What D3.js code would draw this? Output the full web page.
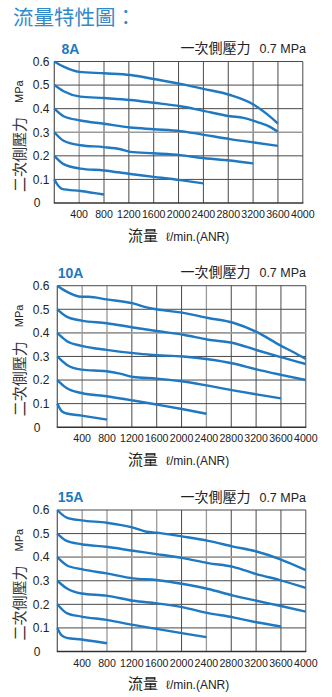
<!DOCTYPE html>
<html><head><meta charset="utf-8">
<script src="https://cdn.jsdelivr.net/npm/d3@7/dist/d3.min.js"></script>
<style>
html,body{margin:0;padding:0;background:#fff;}
svg{display:block;}
</style></head>
<body>
<svg id="c" width="332" height="697"></svg>
<script>
// ---- data ----
const chartNames = ["8A", "10A", "15A"];
const xTicks = [400, 800, 1200, 1600, 2000, 2400, 2800, 3200, 3600, 4000];
const yTicks = [0, 0.1, 0.2, 0.3, 0.4, 0.5, 0.6];
const titleText = "流量特性圖：";
const primaryLabel = "一次側壓力";
const primaryValue = "0.7 MPa";
const xTitle = "流量";
const xUnit = "ℓ/min.(ANR)";
const yTitle = "二次側壓力";
const yUnit = "MPa";

// each curve: [flow, pressure] pairs
const curves8A = [
  [[0,0.6],[150,0.578],[400,0.556],[800,0.55],[1225,0.543],[1600,0.526],[2030,0.505],[2400,0.484],[2830,0.458],[3205,0.418],[3420,0.378],[3600,0.337]],
  [[0,0.5],[150,0.474],[420,0.451],[800,0.445],[1225,0.437],[1600,0.425],[2030,0.41],[2346,0.394],[2829,0.368],[3044,0.361],[3259,0.344],[3473,0.323],[3600,0.302]],
  [[0,0.4],[150,0.368],[420,0.35],[800,0.336],[1225,0.32],[1600,0.313],[2030,0.305],[2346,0.292],[2829,0.271],[3205,0.257],[3600,0.242]],
  [[0,0.3],[150,0.264],[420,0.245],[800,0.237],[1065,0.228],[1225,0.217],[1600,0.211],[2030,0.203],[2346,0.192],[2829,0.18],[3200,0.168]],
  [[0,0.2],[150,0.165],[420,0.146],[800,0.138],[1225,0.123],[1600,0.111],[2030,0.097],[2400,0.083]],
  [[0,0.1],[45,0.08],[125,0.06],[420,0.051],[800,0.036]]
];
const curves10A = [
  [[0,0.6],[150,0.575],[390,0.553],[500,0.553],[793,0.542],[1222,0.525],[1437,0.508],[1598,0.5],[2027,0.485],[2429,0.463],[2831,0.443],[3207,0.404],[3582,0.348],[3796,0.319],[4000,0.289]],
  [[0,0.5],[150,0.469],[390,0.452],[793,0.441],[1222,0.423],[1598,0.408],[2027,0.392],[2429,0.371],[2831,0.357],[3207,0.327],[3582,0.298],[4000,0.268]],
  [[0,0.4],[150,0.366],[390,0.345],[793,0.328],[1222,0.314],[1490,0.307],[2027,0.3],[2429,0.288],[2831,0.27],[3207,0.245],[3582,0.223],[4000,0.2]],
  [[0,0.3],[150,0.265],[390,0.244],[793,0.237],[1008,0.227],[1222,0.213],[1598,0.206],[2027,0.194],[2429,0.176],[2831,0.156],[3207,0.139],[3600,0.122]],
  [[0,0.2],[150,0.166],[390,0.145],[793,0.131],[1222,0.113],[1598,0.096],[2027,0.076],[2400,0.057]],
  [[0,0.1],[70,0.068],[150,0.058],[390,0.049],[800,0.032]]
];
const curves15A = [
  [[0,0.6],[150,0.568],[390,0.556],[793,0.546],[1222,0.525],[1437,0.508],[1598,0.504],[2027,0.487],[2429,0.469],[2831,0.445],[3206,0.424],[3581,0.392],[4000,0.345]],
  [[0,0.5],[150,0.469],[390,0.455],[793,0.444],[1222,0.427],[1598,0.413],[2027,0.396],[2429,0.375],[2831,0.359],[3206,0.328],[3581,0.303],[4000,0.27]],
  [[0,0.4],[150,0.366],[390,0.349],[793,0.331],[1222,0.31],[1598,0.303],[2027,0.286],[2429,0.265],[2831,0.237],[3206,0.215],[3581,0.194],[4000,0.169]],
  [[0,0.3],[150,0.268],[390,0.246],[793,0.237],[1222,0.215],[1598,0.204],[2027,0.187],[2429,0.163],[2831,0.145],[3206,0.124],[3600,0.106]],
  [[0,0.2],[150,0.163],[390,0.148],[793,0.134],[1222,0.113],[1598,0.096],[2027,0.077],[2400,0.061]],
  [[0,0.1],[70,0.068],[150,0.058],[390,0.051],[800,0.035]]
];
const allCurves = [curves8A, curves10A, curves15A];

// ---- layout / style ----
const layout = [
  {left:54.3, top:61.5, lightX:[400], lightY:[0.3]},
  {left:57.3, top:285.7, lightX:[400,800,2400], lightY:[0.4]},
  {left:57.3, top:510, lightX:[400,800,1600,2400], lightY:[0.4]}
];
const W = 248.5, H = 141.5;
const blue = "#1e78c2";
const cjk = "'Noto Sans CJK TC','Noto Sans CJK SC',sans-serif";
const latin = "'Liberation Sans',Arial,sans-serif";

const svg = d3.select("#c");

svg.append("text").attr("x", 13).attr("y", 25)
  .attr("font-family", cjk).attr("font-size", 20.5).attr("fill", "#3089c8")
  .text(titleText);

chartNames.forEach((name, i) => {
  const L = layout[i];
  const x = d3.scaleLinear().domain([0, 4000]).range([L.left, L.left + W]);
  const y = d3.scaleLinear().domain([0, 0.6]).range([L.top + H, L.top]);
  const g = svg.append("g");

  // grid
  const gx = d3.range(400, 4001, 400);
  g.selectAll(".vx").data(gx).join("line")
    .attr("x1", d => x(d)).attr("x2", d => x(d))
    .attr("y1", y(0)).attr("y2", y(0.6))
    .attr("stroke", d => L.lightX.includes(d) ? "#9a9a9a" : "#4a4a4a")
    .attr("stroke-width", d => L.lightX.includes(d) ? 1.3 : 1);
  g.selectAll(".hy").data(yTicks.filter(d => d > 0)).join("line")
    .attr("x1", x(0)).attr("x2", x(4000))
    .attr("y1", d => y(d)).attr("y2", d => y(d))
    .attr("stroke", d => L.lightY.some(v => Math.abs(v - d) < 1e-9) ? "#9a9a9a" : "#4a4a4a")
    .attr("stroke-width", d => L.lightY.some(v => Math.abs(v - d) < 1e-9) ? 1.6 : 1);
  // axes frame
  g.append("line").attr("x1", x(0)).attr("x2", x(0)).attr("y1", y(0)).attr("y2", y(0.6))
    .attr("stroke", "#555").attr("stroke-width", 1.2);
  g.append("line").attr("x1", x(0) - 0.5).attr("x2", x(4000) + 0.5).attr("y1", y(0)).attr("y2", y(0))
    .attr("stroke", "#333").attr("stroke-width", 1.6);

  // curves
  const line = d3.line().x(d => x(d[0])).y(d => y(d[1])).curve(d3.curveMonotoneX);
  g.selectAll(".curve").data(allCurves[i]).join("path")
    .attr("d", line).attr("fill", "none").attr("stroke", blue)
    .attr("stroke-width", 2.4).attr("stroke-linecap", "butt");

  // y tick labels
  g.selectAll(".yl").data(yTicks).join("text")
    .attr("x", d => d === 0 ? 37 : 49.5)
    .attr("y", d => y(d) + 4.3)
    .attr("text-anchor", d => d === 0 ? "middle" : "end")
    .attr("font-family", latin).attr("font-size", 12).attr("fill", "#222")
    .text(d => d === 0 ? "0" : d3.format(".1f")(d));
  // x tick labels
  g.selectAll(".xl").data(xTicks).join("text")
    .attr("x", d => x(d)).attr("y", y(0) + 15)
    .attr("text-anchor", "middle")
    .attr("font-family", latin).attr("font-size", 10.6).attr("fill", "#222")
    .text(d => d);

  // chart name
  g.append("text").attr("x", 70.5).attr("y", L.top - 8)
    .attr("text-anchor", "middle").attr("font-family", latin)
    .attr("font-weight", "bold").attr("font-size", 14).attr("fill", blue)
    .text(name);
  // primary pressure
  const pt = g.append("text").attr("x", 306).attr("y", L.top - 8.5)
    .attr("text-anchor", "end").attr("fill", "#222");
  pt.append("tspan").attr("font-family", cjk).attr("font-size", 14).text(primaryLabel);
  pt.append("tspan").attr("font-family", latin).attr("font-size", 12.5).attr("dx", 9).text(primaryValue);

  // x title
  const xt = g.append("text").attr("x", 128).attr("y", y(0) + 37.5).attr("fill", "#222");
  xt.append("tspan").attr("font-family", cjk).attr("font-size", 15).text(xTitle);
  xt.append("tspan").attr("font-family", latin).attr("font-size", 12).attr("dx", 8).text(xUnit);

  // y title
  g.append("text").attr("transform", `translate(24.5,${y(0) - 11}) rotate(-90)`)
    .attr("font-family", cjk).attr("font-size", 15).attr("fill", "#333").text(yTitle);
  g.append("text").attr("transform", `translate(22.5,${y(0) - 100}) rotate(-90)`)
    .attr("font-family", latin).attr("font-size", 11).attr("fill", "#222").text(yUnit);
});
</script>
</body></html>
